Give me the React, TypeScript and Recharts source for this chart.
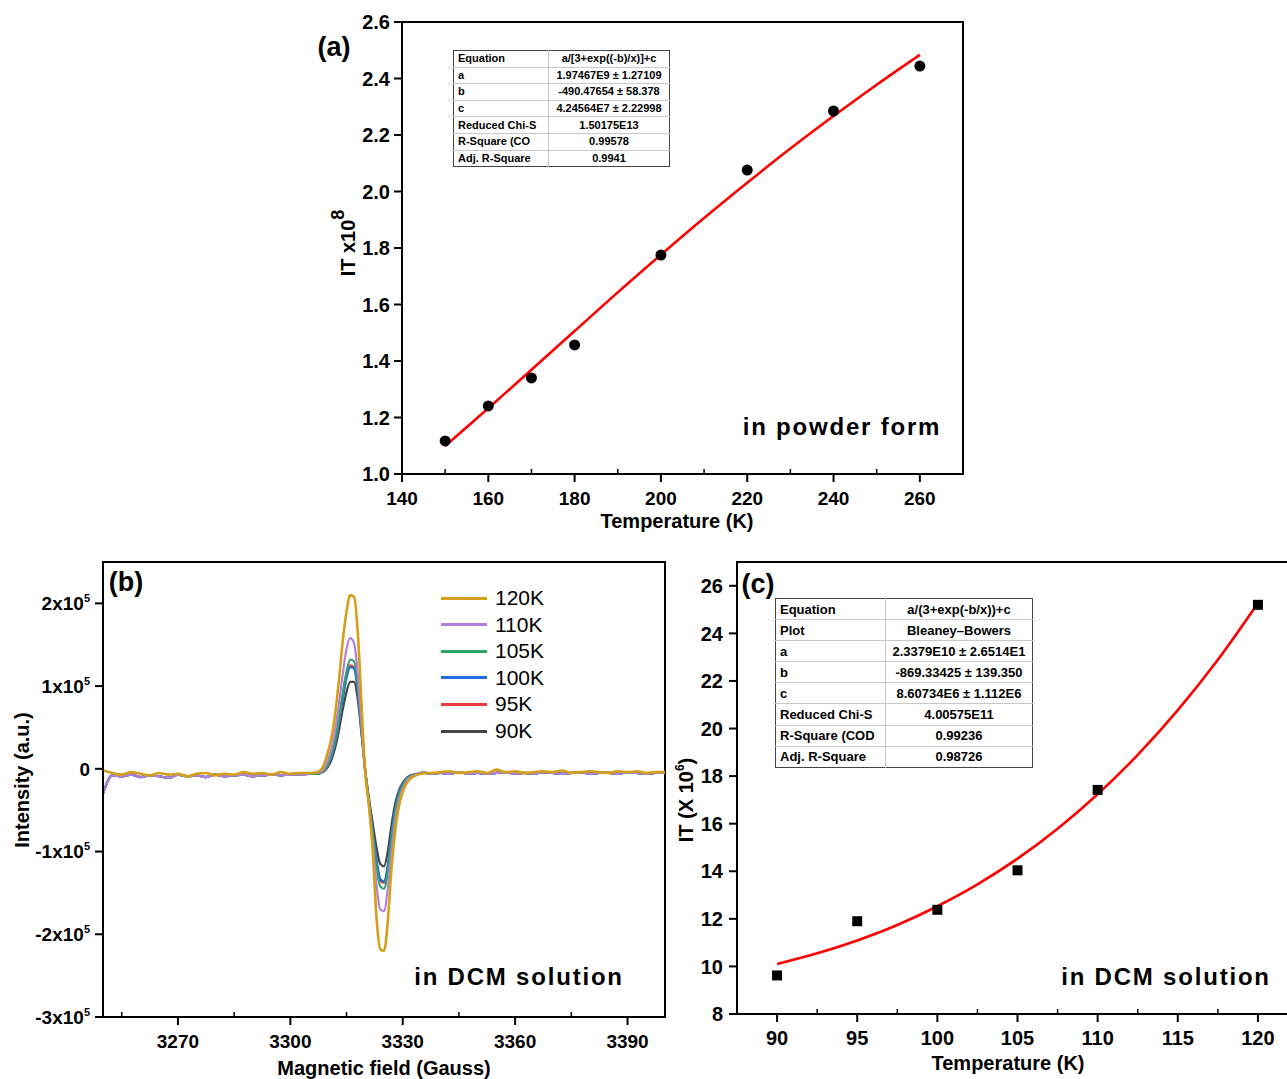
import React from 'react';
import { ComposedChart, LineChart, Line, Scatter, XAxis, YAxis, ReferenceArea } from 'recharts';

const FONT = "Arial, 'Liberation Sans', sans-serif";

// ---------- Panel (a): powder ----------
const tempA = [150, 160, 170, 180, 200, 220, 240, 260];
const itA = [1.117, 1.241, 1.34, 1.457, 1.775, 2.076, 2.285, 2.444];
const fitTempA = [150, 160, 170, 180, 190, 200, 210, 220, 230, 240, 250, 260];
const fitA = [1.099, 1.233, 1.369, 1.506, 1.643, 1.776, 1.906, 2.031, 2.152, 2.267, 2.378, 2.484];
const xTicksA = [140, 150, 160, 170, 180, 190, 200, 210, 220, 230, 240, 250, 260, 270];
const xMajorA = [140, 160, 180, 200, 220, 240, 260];
const yTicksA = [1.0, 1.2, 1.4, 1.6, 1.8, 2.0, 2.2, 2.4, 2.6];

const tableA = [
  ['Equation', 'a/[3+exp((-b)/x)]+c'],
  ['a', '1.97467E9 ± 1.27109'],
  ['b', '-490.47654 ± 58.378'],
  ['c', '4.24564E7 ± 2.22998'],
  ['Reduced Chi-S', '1.50175E13'],
  ['R-Square (CO', '0.99578'],
  ['Adj. R-Square', '0.9941'],
];

// ---------- Panel (b): ESR spectra (intensity in units of 1e5) ----------
const fieldLeft = [3250, 3252.5, 3255, 3257.5, 3260, 3262.5, 3265, 3267.5, 3270, 3272.5, 3275, 3277.5, 3280, 3282.5, 3285, 3287.5, 3290, 3292.5, 3295, 3297.5, 3300, 3302.5, 3305];
const fieldSignal = [3306, 3307, 3308, 3309, 3310, 3311, 3312, 3313, 3314, 3315, 3316, 3317, 3318, 3319, 3320, 3321, 3322, 3323, 3324, 3325, 3326, 3327, 3328, 3329, 3330, 3331, 3332, 3333, 3334, 3335, 3336];
const fieldRight = [3337.5, 3340, 3342.5, 3345, 3347.5, 3350, 3352.5, 3355, 3357.5, 3360, 3362.5, 3365, 3367.5, 3370, 3372.5, 3375, 3377.5, 3380, 3382.5, 3385, 3387.5, 3390, 3392.5, 3395, 3397.5, 3400];

const baseGoldLeft = [-0.02, -0.05, -0.07, -0.04, -0.06, -0.08, -0.05, -0.07, -0.06, -0.09, -0.06, -0.05, -0.08, -0.06, -0.07, -0.04, -0.06, -0.05, -0.07, -0.04, -0.06, -0.05, -0.05];
const baseGoldRight = [-0.05, -0.04, -0.03, -0.05, -0.04, -0.03, -0.05, -0.01, -0.04, -0.03, -0.05, -0.04, -0.03, -0.04, -0.02, -0.05, -0.04, -0.03, -0.04, -0.05, -0.03, -0.04, -0.03, -0.05, -0.04, -0.04];
const baseOtherLeft = [-0.3, -0.08, -0.09, -0.07, -0.1, -0.08, -0.09, -0.11, -0.07, -0.09, -0.08, -0.1, -0.07, -0.09, -0.08, -0.07, -0.09, -0.08, -0.07, -0.08, -0.07, -0.07, -0.06];
const baseOtherRight = [-0.06, -0.05, -0.06, -0.04, -0.06, -0.05, -0.06, -0.05, -0.04, -0.06, -0.05, -0.06, -0.04, -0.05, -0.06, -0.05, -0.04, -0.06, -0.05, -0.05, -0.06, -0.04, -0.05, -0.06, -0.05, -0.05];

const sig120 = [-0.05, -0.04, -0.02, 0.05, 0.2, 0.38, 0.68, 1.08, 1.55, 1.9, 2.1, 2.08, 1.65, 0.78, -0.05, -0.45, -1.0, -1.8, -2.18, -2.2, -1.85, -1.2, -0.75, -0.45, -0.28, -0.18, -0.12, -0.09, -0.07, -0.06, -0.05];
const sig110 = [-0.05, -0.05, -0.04, 0.0, 0.1, 0.25, 0.48, 0.8, 1.15, 1.45, 1.58, 1.52, 1.15, 0.55, -0.05, -0.45, -0.9, -1.4, -1.7, -1.72, -1.45, -1.0, -0.62, -0.38, -0.24, -0.15, -0.1, -0.08, -0.06, -0.05, -0.05];
const sig105 = [-0.06, -0.06, -0.05, -0.02, 0.05, 0.17, 0.35, 0.62, 0.92, 1.18, 1.32, 1.3, 1.02, 0.5, -0.02, -0.42, -0.8, -1.18, -1.42, -1.45, -1.25, -0.85, -0.52, -0.32, -0.2, -0.13, -0.09, -0.07, -0.06, -0.05, -0.05];
const sig100 = [-0.06, -0.06, -0.05, -0.02, 0.04, 0.15, 0.32, 0.57, 0.85, 1.1, 1.23, 1.21, 0.95, 0.46, -0.03, -0.4, -0.75, -1.1, -1.33, -1.36, -1.17, -0.8, -0.49, -0.3, -0.19, -0.12, -0.09, -0.07, -0.06, -0.05, -0.05];
const sig95 = [-0.06, -0.06, -0.05, -0.02, 0.04, 0.15, 0.32, 0.57, 0.86, 1.11, 1.25, 1.23, 0.96, 0.47, -0.03, -0.41, -0.77, -1.12, -1.35, -1.38, -1.19, -0.81, -0.5, -0.3, -0.19, -0.12, -0.09, -0.07, -0.06, -0.05, -0.05];
const sig90 = [-0.06, -0.06, -0.05, -0.03, 0.02, 0.11, 0.26, 0.47, 0.72, 0.93, 1.05, 1.05, 0.84, 0.42, -0.02, -0.36, -0.66, -0.95, -1.15, -1.18, -1.0, -0.68, -0.42, -0.26, -0.17, -0.11, -0.08, -0.07, -0.06, -0.05, -0.05];

const seriesNames = ['120K', '110K', '105K', '100K', '95K', '90K'];
const seriesColors = ['#d4a017', '#b27fe0', '#2ea566', '#1f6fe0', '#ee3a3a', '#454545'];
const seriesWidths = [2.6, 2.2, 2.2, 2.2, 2.2, 2.2];

const xTicksB = [3255, 3270, 3285, 3300, 3315, 3330, 3345, 3360, 3375, 3390];
const xMajorB = [3270, 3300, 3330, 3360, 3390];
const yTicksB = [-3, -2, -1, 0, 1, 2];

// ---------- Panel (c): DCM solution ----------
const tempC = [90, 95, 100, 105, 110, 120];
const itC = [9.62, 11.9, 12.38, 14.04, 17.42, 25.2];
const fitTempC = [90, 92.5, 95, 97.5, 100, 102.5, 105, 107.5, 110, 112.5, 115, 117.5, 120];
const fitC = [10.1, 10.55, 11.09, 11.74, 12.53, 13.45, 14.53, 15.79, 17.24, 18.89, 20.77, 22.89, 25.27];
const xTicksC = [90, 92.5, 95, 97.5, 100, 102.5, 105, 107.5, 110, 112.5, 115, 117.5, 120, 122.5];
const xMajorC = [90, 95, 100, 105, 110, 115, 120];
const yTicksC = [8, 10, 12, 14, 16, 18, 20, 22, 24, 26];

const tableC = [
  ['Equation', 'a/(3+exp(-b/x))+c'],
  ['Plot', 'Bleaney–Bowers'],
  ['a', '2.3379E10 ± 2.6514E1'],
  ['b', '-869.33425 ± 139.350'],
  ['c', '8.60734E6 ± 1.112E6'],
  ['Reduced Chi-S', '4.00575E11'],
  ['R-Square (COD', '0.99236'],
  ['Adj. R-Square', '0.98726'],
];

// ---------- built tables ----------
const pointsA = tempA.map((x, i) => ({ x, y: itA[i] }));
const fitDataA = fitTempA.map((x, i) => ({ x, y: fitA[i] }));
const pointsC = tempC.map((x, i) => ({ x, y: itC[i] }));
const fitDataC = fitTempC.map((x, i) => ({ x, y: fitC[i] }));

const fieldAll = [...fieldLeft, ...fieldSignal, ...fieldRight];
const full = (sig: number[], gold: boolean) =>
  gold ? [...baseGoldLeft, ...sig, ...baseGoldRight] : [...baseOtherLeft, ...sig, ...baseOtherRight];
const seriesFull = [full(sig120, true), full(sig110, false), full(sig105, false), full(sig100, false), full(sig95, false), full(sig90, false)];
const rowsB = fieldAll.map((x, i) => {
  const r: any = { x };
  seriesNames.forEach((n, k) => { r[n] = seriesFull[k][i]; });
  return r;
});

// ---------- helpers ----------
const isIn = (arr: number[], v: number) => arr.some((m) => Math.abs(m - v) < 1e-6);

const makeXTick = (major: number[], fs: number, off: number) => (props: any) => {
  const { x, y, payload } = props;
  const v = payload.value;
  if (!isIn(major, v)) {
    return <line x1={x} y1={y} x2={x} y2={y - 5} stroke="#000" strokeWidth={1.5} />;
  }
  return (
    <g>
      <line x1={x} y1={y} x2={x} y2={y + 8} stroke="#000" strokeWidth={2} />
      <text x={x} y={y + off} textAnchor="middle" fontFamily={FONT} fontWeight="bold" fontSize={fs} fill="#000">
        {String(v)}
      </text>
    </g>
  );
};

const makeYTick = (fs: number, gap: number, fmt: (v: number) => any) => (props: any) => {
  const { x, y, payload } = props;
  return (
    <g>
      <line x1={x - 8} y1={y} x2={x} y2={y} stroke="#000" strokeWidth={2} />
      <text x={x - gap} y={y + fs * 0.36} textAnchor="end" fontFamily={FONT} fontWeight="bold" fontSize={fs} fill="#000">
        {fmt(payload.value)}
      </text>
    </g>
  );
};

const fmtB = (v: number) => {
  if (v === 0) return '0';
  return (
    <>
      {`${v}x10`}
      <tspan dy={-8} fontSize={11}>5</tspan>
    </>
  );
};

const Txt = ({ x, y, size, children, rotate, spacing, weight }: any) => (
  <div
    style={{
      position: 'absolute',
      left: x,
      top: y,
      transform: `translate(-50%,-50%)${rotate ? ' rotate(-90deg)' : ''}`,
      whiteSpace: 'nowrap',
      fontFamily: FONT,
      fontWeight: weight || 'bold',
      fontSize: size,
      lineHeight: 1,
      letterSpacing: spacing || 0,
      color: '#000',
    }}
  >
    {children}
  </div>
);

const FitTable = ({ rows, left, top, width, col1, rowH, fs }: any) => (
  <table
    style={{
      position: 'absolute',
      left,
      top,
      width,
      borderCollapse: 'collapse',
      tableLayout: 'fixed',
      fontFamily: FONT,
      fontWeight: 'bold',
      fontSize: fs,
      background: '#fff',
      border: '1px solid #444',
    }}
  >
    <colgroup>
      <col style={{ width: col1 }} />
      <col />
    </colgroup>
    <tbody>
      {rows.map((r: string[], i: number) => (
        <tr key={i} style={{ height: rowH }}>
          <td style={{ padding: '0 4px', borderBottom: i < rows.length - 1 ? '1px solid #c8c8c8' : 'none', borderRight: '1px solid #c8c8c8', whiteSpace: 'nowrap', overflow: 'hidden', lineHeight: 1 }}>{r[0]}</td>
          <td style={{ padding: '0 2px', borderBottom: i < rows.length - 1 ? '1px solid #c8c8c8' : 'none', textAlign: 'center', whiteSpace: 'nowrap', overflow: 'hidden', lineHeight: 1 }}>{r[1]}</td>
        </tr>
      ))}
    </tbody>
  </table>
);

const axisLine = { stroke: '#000', strokeWidth: 2 };

export default function App() {
  const drawOrder = [5, 4, 3, 2, 1, 0];
  return (
    <div style={{ position: 'fixed', left: 0, top: 0, width: 1287, height: 1079, overflow: 'hidden', background: '#fff' }}>
      {/* Panel (a) */}
      <div style={{ position: 'absolute', left: 302, top: 12 }}>
        <ComposedChart width={671} height={522} margin={{ top: 10, right: 10, bottom: 0, left: 0 }}>
          <XAxis dataKey="x" type="number" domain={[140, 270]} ticks={xTicksA} interval={0} allowDataOverflow height={60}
            tickSize={0} tickMargin={0} tickLine={false} axisLine={axisLine} tick={makeXTick(xMajorA, 19, 31)} />
          <YAxis type="number" domain={[1.0, 2.6]} ticks={yTicksA} interval={0} allowDataOverflow width={100}
            tickSize={0} tickMargin={0} tickLine={false} axisLine={axisLine} tick={makeYTick(20, 12, (v) => v.toFixed(1))} />
          <ReferenceArea x1={140} x2={270} y1={1.0} y2={2.6} fill="none" stroke="#000" strokeWidth={2} />
          <Line data={fitDataA} dataKey="y" type="monotone" stroke="#ff0000" strokeWidth={2.6} dot={false} isAnimationActive={false} />
          <Scatter data={pointsA} dataKey="y" isAnimationActive={false}
            shape={(p: any) => <circle cx={p.cx} cy={p.cy} r={5.5} fill="#000" />} />
        </ComposedChart>
      </div>

      {/* Panel (b) */}
      <div style={{ position: 'absolute', left: 3, top: 552 }}>
        <LineChart width={672} height={525} data={rowsB} margin={{ top: 10, right: 10, bottom: 0, left: 0 }}>
          <XAxis dataKey="x" type="number" domain={[3250, 3400]} ticks={xTicksB} interval={0} allowDataOverflow height={60}
            tickSize={0} tickMargin={0} tickLine={false} axisLine={axisLine} tick={makeXTick(xMajorB, 19, 31)} />
          <YAxis type="number" domain={[-3, 2.5]} ticks={yTicksB} interval={0} allowDataOverflow width={100}
            tickSize={0} tickMargin={0} tickLine={false} axisLine={axisLine} tick={makeYTick(19, 13, fmtB)} />
          <ReferenceArea x1={3250} x2={3400} y1={-3} y2={2.5} fill="none" stroke="#000" strokeWidth={2} />
          {drawOrder.map((k) => (
            <Line key={seriesNames[k]} dataKey={seriesNames[k]} type="monotone" stroke={seriesColors[k]}
              strokeWidth={seriesWidths[k]} dot={false} isAnimationActive={false} />
          ))}
        </LineChart>
      </div>

      {/* Panel (c) */}
      <div style={{ position: 'absolute', left: 637, top: 552 }}>
        <ComposedChart width={661} height={522} margin={{ top: 10, right: 0, bottom: 0, left: 0 }}>
          <XAxis dataKey="x" type="number" domain={[87.5, 122.5]} ticks={xTicksC} interval={0} allowDataOverflow height={60}
            tickSize={0} tickMargin={0} tickLine={false} axisLine={axisLine} tick={makeXTick(xMajorC, 20, 31)} />
          <YAxis type="number" domain={[8, 27]} ticks={yTicksC} interval={0} allowDataOverflow width={100}
            tickSize={0} tickMargin={0} tickLine={false} axisLine={axisLine} tick={makeYTick(20, 14, (v) => String(v))} />
          <ReferenceArea x1={87.5} x2={122.5} y1={8} y2={27} fill="none" stroke="#000" strokeWidth={2} />
          <Line data={fitDataC} dataKey="y" type="monotone" stroke="#ff0000" strokeWidth={2.6} dot={false} isAnimationActive={false} />
          <Scatter data={pointsC} dataKey="y" isAnimationActive={false}
            shape={(p: any) => <rect x={p.cx - 5} y={p.cy - 5} width={10} height={10} fill="#000" />} />
        </ComposedChart>
      </div>

      {/* Tables */}
      <FitTable rows={tableA} left={453} top={50} width={217} col1={95} rowH={16.6} fs={11} />
      <FitTable rows={tableC} left={775} top={598} width={258} col1={110} rowH={21.1} fs={13} />

      {/* Legend (b) */}
      {seriesNames.map((n, i) => (
        <React.Fragment key={n}>
          <div style={{ position: 'absolute', left: 441, top: 598 + i * 26.6 - 1.5, width: 46, height: 3, background: seriesColors[i] }} />
          <div style={{ position: 'absolute', left: 495, top: 598 + i * 26.6 - 11, fontFamily: FONT, fontSize: 21, lineHeight: '22px', color: '#000' }}>{n}</div>
        </React.Fragment>
      ))}

      {/* Axis titles */}
      <Txt x={677} y={521} size={20}>Temperature (K)</Txt>
      <Txt x={384} y={1068} size={20}>Magnetic field (Gauss)</Txt>
      <Txt x={1008} y={1063} size={20}>Temperature (K)</Txt>
      <Txt x={22} y={780} size={20} rotate>Intensity (a.u.)</Txt>
      <Txt x={348} y={243} size={20} rotate>
        IT x10<span style={{ fontSize: 18, position: 'relative', top: -11 }}>8</span>
      </Txt>
      <Txt x={686} y={800} size={20} rotate>
        IT (X 10<span style={{ fontSize: 12, position: 'relative', top: -9 }}>6</span>)
      </Txt>

      {/* Panel letters */}
      <Txt x={334} y={47} size={27}>(a)</Txt>
      <Txt x={126} y={582} size={27}>(b)</Txt>
      <Txt x={758} y={584} size={27}>(c)</Txt>

      {/* Annotations */}
      <Txt x={842} y={427} size={24} spacing="1.8px">in powder form</Txt>
      <Txt x={519} y={977} size={24} spacing="1.8px">in DCM solution</Txt>
      <Txt x={1166} y={977} size={24} spacing="1.8px">in DCM solution</Txt>
    </div>
  );
}
